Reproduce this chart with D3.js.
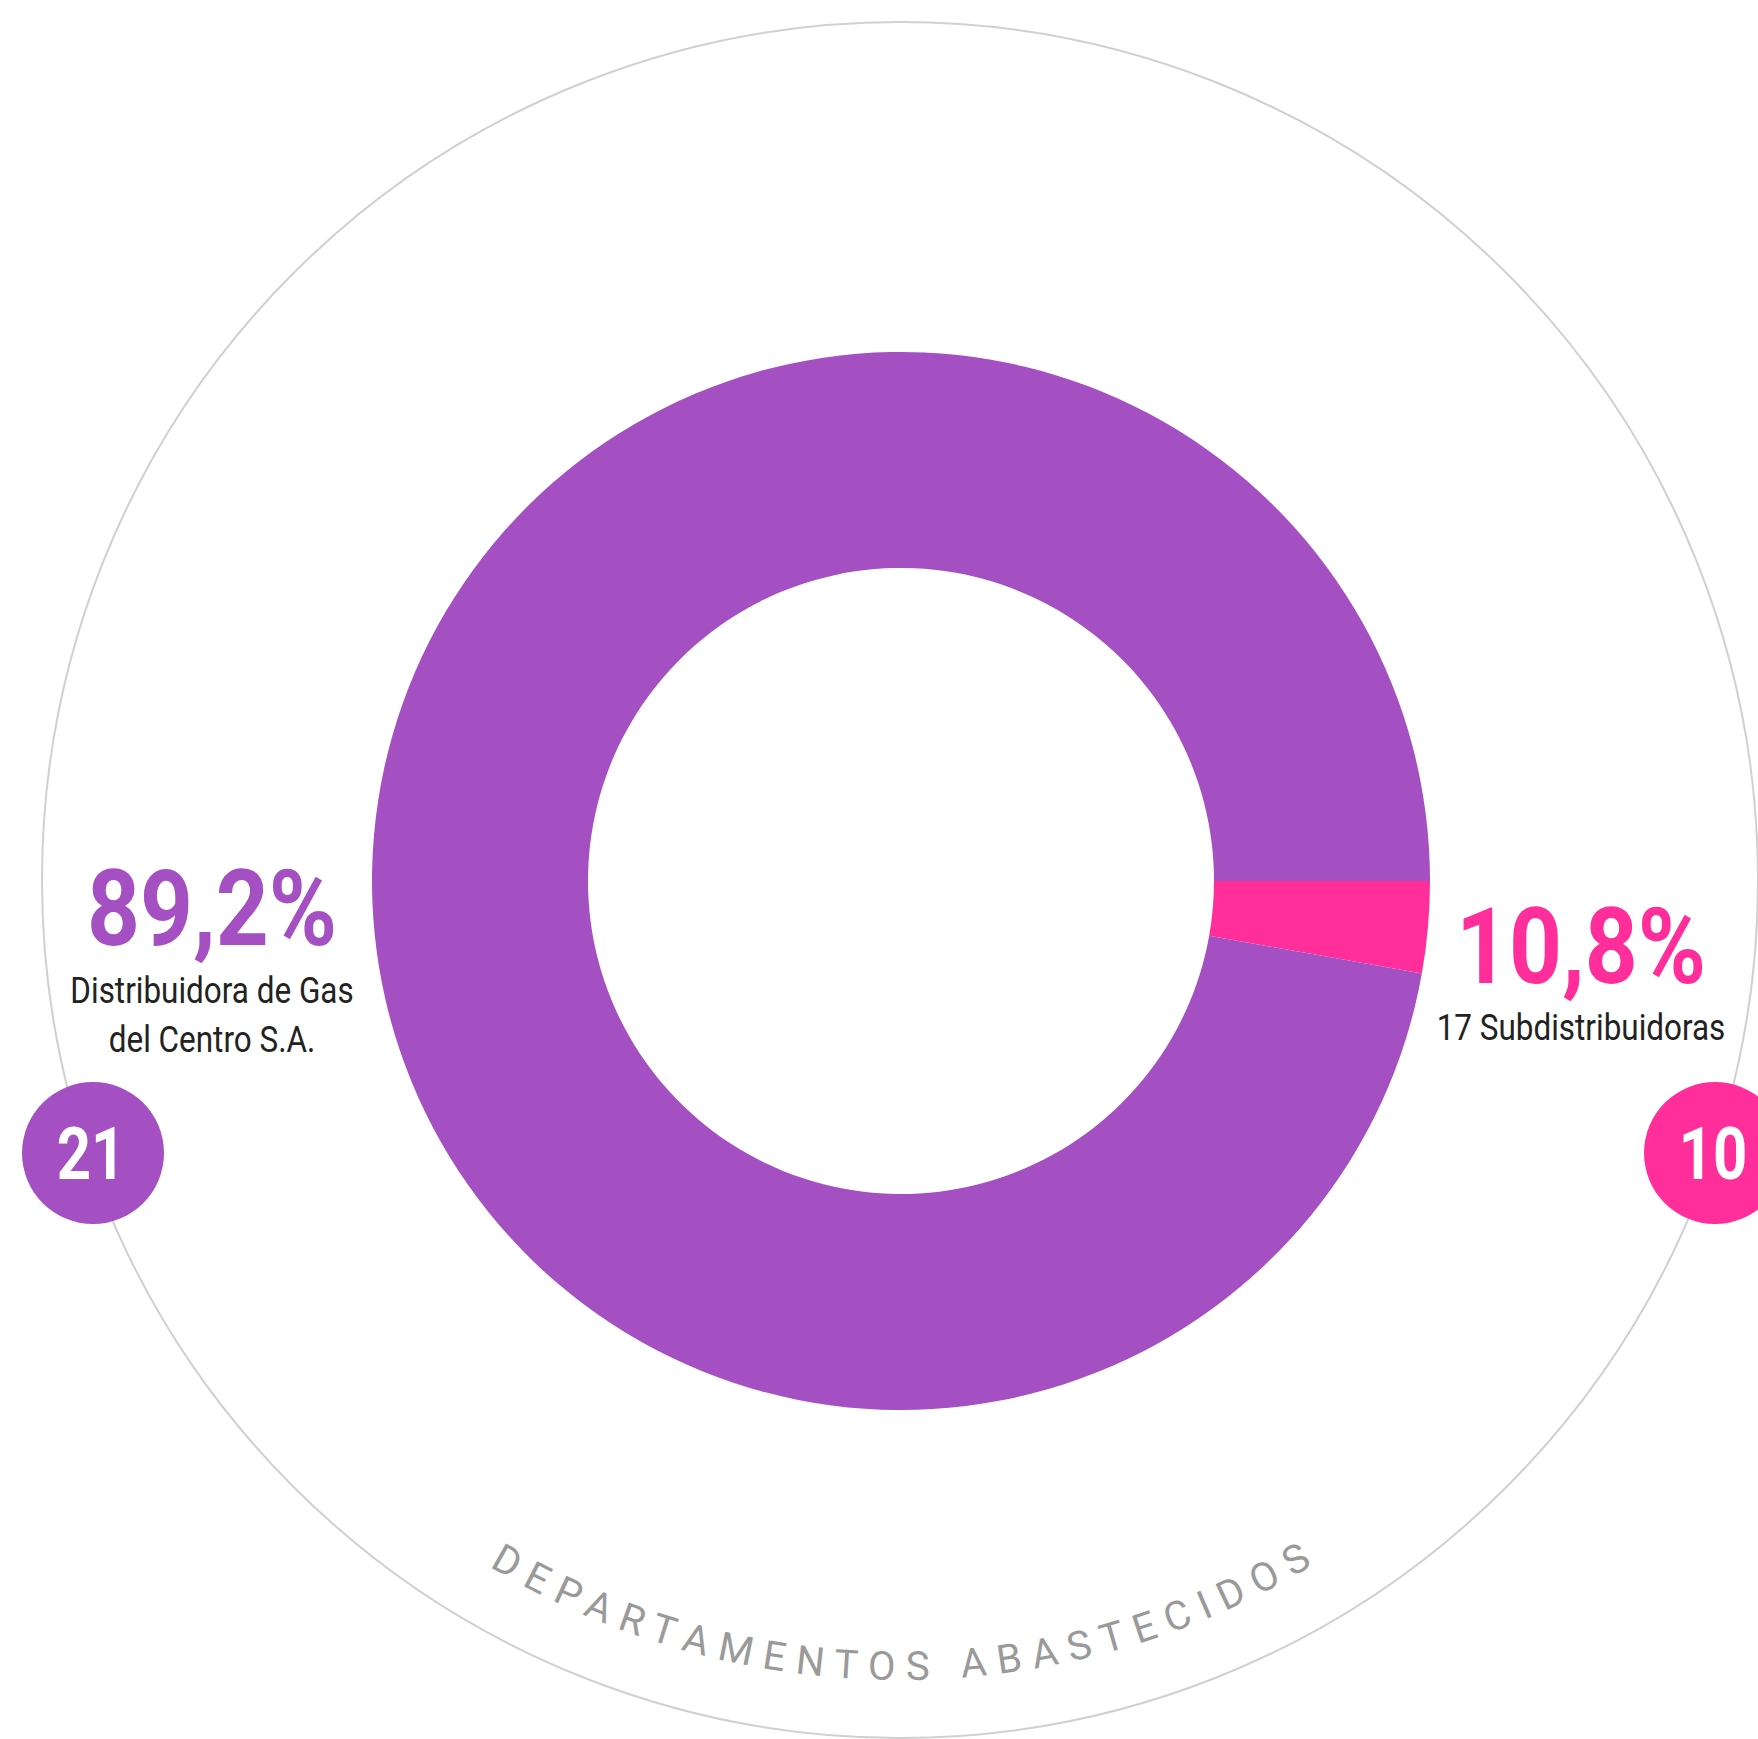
<!DOCTYPE html>
<html>
<head>
<meta charset="utf-8">
<script src="https://cdn.jsdelivr.net/npm/d3@7"></script>
<style>
  html, body { margin: 0; padding: 0; background: #fff; }
  svg { display: block; }
  text { font-family: Roboto, "Noto Sans", sans-serif; }
</style>
</head>
<body>
<div id="chart"></div>
<script>
// data
var groups = ["Distribuidora de Gas del Centro S.A.", "17 Subdistribuidoras"];
var shareLabels = ["89,2%", "10,8%"];
var sliceValues = [97.2, 2.8];      // size of the slices as drawn
var departments = [21, 10];
var nameLines = [["Distribuidora de Gas", "del Centro S.A."], ["17 Subdistribuidoras"]];
var colors = ["#a44fc2", "#ff2e9b"];
var ringTitle = "DEPARTAMENTOS ABASTECIDOS";

var width = 1758,
  height = 1739,
  cx = 901, cy = 881,
  outerR = 529, innerR = 313,
  ringR = 858,
  squeeze = 0.88; // the original font is a condensed one

var svg = d3.select("#chart")
  .append("svg")
  .attr("width", width)
  .attr("height", height);

// outer thin ring
svg.append("circle")
  .attr("cx", cx - 1)
  .attr("cy", cy - 1)
  .attr("r", ringR)
  .style("fill", "none")
  .style("stroke", "#d0d0d0")
  .style("stroke-width", 2);

// donut (pink slice starts at 3 o'clock)
var pie = d3.pie()
  .sort(null)
  .value(function (i) { return sliceValues[i]; })
  .startAngle(Math.PI / 2)
  .endAngle(Math.PI / 2 + 2 * Math.PI);

var arc = d3.arc()
  .innerRadius(innerR)
  .outerRadius(outerR);

svg.append("g")
  .attr("transform", "translate(" + cx + "," + cy + ")")
  .selectAll("path")
  .data(pie([1, 0]))
  .enter()
  .append("path")
  .attr("d", arc)
  .style("fill", function (d) { return colors[d.data]; });

// labels beside the donut
var labelPos = [
  { x: 212, y: 945, sub: 1003 },
  { x: 1581, y: 983, sub: 1040 }
];

var labels = svg.selectAll("g.label")
  .data(groups)
  .enter()
  .append("g")
  .attr("class", "label");

labels.append("text")
  .attr("transform", function (d, i) {
    return "translate(" + labelPos[i].x + "," + labelPos[i].y + ") scale(" + squeeze + ",1)";
  })
  .style("text-anchor", "middle")
  .style("font-weight", 700)
  .style("font-size", "105px")
  .style("fill", function (d, i) { return colors[i]; })
  .text(function (d, i) { return shareLabels[i]; });

labels.each(function (d, i) {
  var g = d3.select(this);
  nameLines[i].forEach(function (line, k) {
    g.append("text")
      .attr("transform", "translate(" + labelPos[i].x + "," + (labelPos[i].sub + k * 49) + ") scale(0.85,1)")
      .style("text-anchor", "middle")
      .style("font-size", "37px")
      .style("fill", "#222")
      .text(line);
  });
});

// department badges sitting on the ring
var badgePos = [{ x: 93, y: 1153 }, { x: 1715, y: 1153 }];

var badges = svg.selectAll("g.badge")
  .data(departments)
  .enter()
  .append("g")
  .attr("class", "badge")
  .attr("transform", function (d, i) {
    return "translate(" + badgePos[i].x + "," + badgePos[i].y + ")";
  });

badges.append("circle")
  .attr("r", 71)
  .style("fill", function (d, i) { return colors[i]; });

badges.append("text")
  .attr("transform", "translate(-2,26) scale(0.82,1)")
  .style("text-anchor", "middle")
  .style("font-weight", 700)
  .style("font-size", "73px")
  .style("fill", "#fff")
  .text(function (d) { return d; });

// curved title along the bottom
var tr = 800,
  a0 = 150 * Math.PI / 180,
  a1 = 30 * Math.PI / 180;
var p0 = [cx - 1 + tr * Math.cos(a0), cy - 1 + tr * Math.sin(a0)],
  p1 = [cx - 1 + tr * Math.cos(a1), cy - 1 + tr * Math.sin(a1)];

svg.append("path")
  .attr("id", "titleArc")
  .attr("d", "M" + p0[0] + "," + p0[1] + " A" + tr + "," + tr + " 0 0,0 " + p1[0] + "," + p1[1])
  .style("fill", "none")
  .style("stroke", "none");

svg.append("text")
  .style("font-size", "40px")
  .style("letter-spacing", "11px")
  .style("fill", "#9a9a9a")
  .append("textPath")
  .attr("href", "#titleArc")
  .attr("startOffset", "50.4%")
  .style("text-anchor", "middle")
  .text(ringTitle);
</script>
</body>
</html>
